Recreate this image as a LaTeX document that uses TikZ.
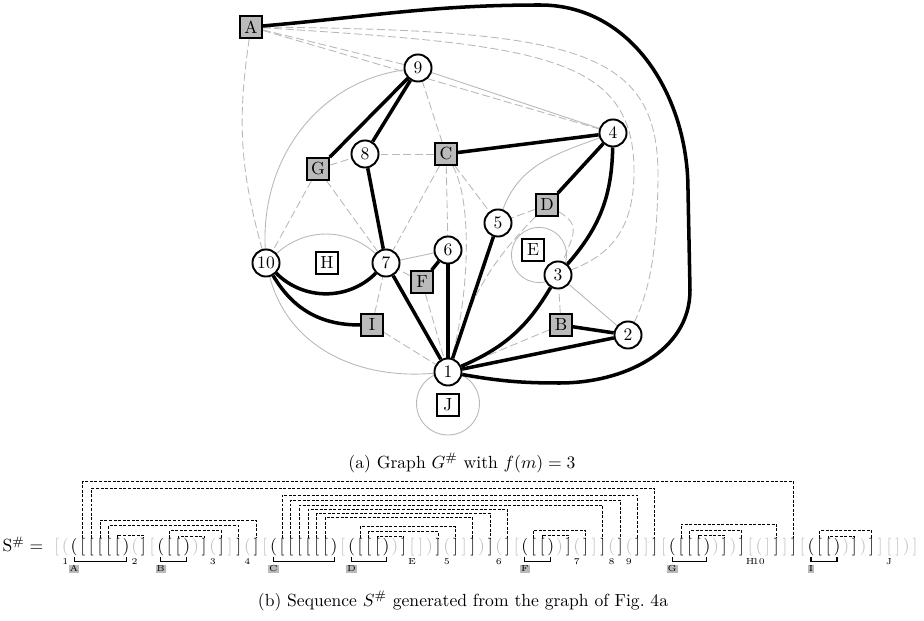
\documentclass[tikz,border=0pt]{standalone}
\usepackage{amssymb}
\usetikzlibrary{positioning, backgrounds}

\colorlet{lt}{black!25}
\colorlet{dk}{black}
\newcommand{\seqo}{(}
\newcommand{\seqc}{)}
\newcommand{\seqs}{[}
\newcommand{\seqe}{]}

\tikzset{
  vtx/.style={circle, draw, line width=1.1pt, fill=white, minimum size=15.4pt, inner sep=0pt},
  fc/.style={rectangle, draw, line width=1.1pt, fill=white, minimum size=12.4pt, inner sep=0pt},
  fcgray/.style={fc, fill=black!27},
  treeline/.style={line width=2pt},
  graphline/.style={black!28, line width=0.5pt},
  incline/.style={black!28, line width=0.5pt, dash pattern=on 4.5pt off 2pt},
  seqchar/.style={anchor=base, inner sep=0pt, text height=7.5pt, text depth=2.5pt},
  seqlink/.style={line width=0.5pt, dash pattern=on 1.7pt off 0.9pt},
  seqtie/.style={line width=0.6pt},
  seqnum/.style={font=\tiny, inner sep=0.3pt},
  seqtag/.style={font=\tiny, fill=black!27, inner sep=0.5pt}
}

\begin{document}
\begin{tikzpicture}[x=0.02cm, y=-0.02cm]
\useasboundingbox (0,0) rectangle (924,621);

% vertices and faces
\node[fcgray] (fA) at (251,27) {A};
\node[vtx] (v9) at (418,68) {9};
\node[vtx] (v4) at (613,133) {4};
\node[vtx] (v8) at (365,154) {8};
\node[fcgray] (fC) at (446,154) {C};
\node[fcgray] (fG) at (318,169) {G};
\node[fcgray] (fD) at (547,205) {D};
\node[vtx] (v5) at (498,223) {5};
\node[fc] (fE) at (533,250) {E};
\node[vtx] (v10) at (266,263) {10};
\node[fc] (fH) at (327,263) {H};
\node[vtx] (v7) at (386,263) {7};
\node[vtx] (v6) at (448,250) {6};
\node[fcgray] (fF) at (422,282) {F};
\node[vtx] (v3) at (558,275) {3};
\node[fcgray] (fI) at (372,325) {I};
\node[fcgray] (fB) at (561,325) {B};
\node[vtx] (v2) at (628,335) {2};
\node[vtx] (v1) at (448,372) {1};
\node[fc] (fJ) at (448,405) {J};

\coordinate (rimtop) at (540,5);
\coordinate (rimright) at (688,190);
\coordinate (rimlow) at (690,290);
\coordinate (rimbottom) at (560,383);

\begin{scope}[on background layer]
  % plain edges and the two loops
  \draw[graphline]
    (v9) edge (v4)
    (v9) edge[out=188, in=93] (v10)
    (v10) edge[bend left=42] (v7)
    (v7) edge (v6)
    (v4) edge[out=200, in=70] (v5)
    (v3) edge (v2)
    (v10) edge[out=-75, in=185] (v1);
  \draw[graphline] (v3.center) arc[start angle=46.5, end angle=406.5, radius=27.6];
  \draw[graphline] (v1.center) arc[start angle=-90, end angle=270, radius=31.5];

  % face-vertex incidences
  \draw[incline]
    (fA) edge[bend right=12] (v10)
    (fA) edge (v9)
    (fA) edge (v4)
    (fB) edge (v3)
    (fB) edge (v1)
    (fC) edge (v9)
    (fC) edge (v8)
    (fC) edge (v7)
    (fC) edge (v6)
    (fC) edge (v5)
    (fD) edge (v5)
    (fD) edge[bend right=14] (v1)
    (fD) edge[out=-30, in=70, looseness=1.4] (v3)
    (fF) edge (v7)
    (fF) edge (v1)
    (fG) edge (v10)
    (fG) edge (v7)
    (fG) edge (v8)
    (fI) edge (v7)
    (fI) edge (v1);
  \draw[incline] (fA) .. controls (540,45) and (636,55) .. (634,175) .. controls (633,230) and (610,255) .. (v3);
  \draw[incline] (fA) .. controls (580,30) and (660,50) .. (658,180) .. controls (657,250) and (650,290) .. (v2);
  \draw[incline] (fC) .. controls (472,200) and (470,290) .. (v1);

  % thick tree
  \draw[treeline]
    (v9) edge (fG)
    (v9) edge (v8)
    (fC) edge (v4)
    (v4) edge (fD)
    (v4) edge[bend left=20] (v3)
    (v8) edge (v7)
    (v10) edge[bend right=45] (v7)
    (v10) edge[bend right=30] (fI)
    (v7) edge (v1)
    (v6) edge (fF)
    (v6) edge (v1)
    (v5) edge (v1)
    (v3) edge[bend left=18] (v1)
    (fB) edge (v2)
    (v2) edge (v1);
  \draw[treeline] (fA) to[out=5, in=180] (rimtop) to[out=0, in=90] (rimright)
    -- (rimlow) to[out=-90, in=0] (rimbottom) to[out=180, in=-10] (v1);
\end{scope}

\node (capa) at (462,463) {(a) Graph $G^{\#}$ with $f(m) = 3$};

% the bracket sequence
\node[anchor=base east] (seqname) at (49.5,552) {S$^{\#}=$};
\foreach \sym/\tone [count=\i] in {s/lt, o/lt, o/dk, s/dk, s/dk, s/dk, s/dk, s/dk, c/dk, o/lt,
    e/dk, s/lt, o/dk, s/dk, s/dk, c/dk, c/lt, e/dk, o/lt, e/dk,
    e/lt, e/dk, o/lt, e/dk, s/lt, o/dk, s/dk, s/dk, s/dk, s/dk,
    s/dk, s/dk, c/dk, s/lt, o/dk, s/dk, s/dk, s/dk, c/dk, c/lt,
    e/dk, s/lt, e/lt, c/lt, e/dk, o/lt, e/dk, e/lt, e/dk, c/lt,
    e/dk, o/lt, e/dk, s/lt, o/dk, s/dk, s/dk, c/dk, c/lt, e/dk,
    o/lt, e/dk, e/lt, e/dk, o/lt, e/dk, o/lt, e/dk, e/lt, e/dk,
    s/lt, o/dk, s/dk, s/dk, s/dk, c/dk, c/lt, e/dk, c/lt, e/dk,
    s/lt, o/lt, e/lt, e/dk, e/lt, e/dk, s/lt, o/dk, s/dk, s/dk,
    c/dk, c/lt, e/dk, c/lt, e/dk, e/lt, s/lt, e/lt, c/lt, e/lt}
  \node[seqchar, text=\tone] (s\i) at ({48.03+8.67*\i}, 552) {\csname seq\sym\endcsname};

% dashed links over the square brackets
\foreach \a/\b/\y in {4/86/481.7, 5/70/488.3, 27/68/495, 28/66/500, 29/64/505, 30/53/509,
    31/51/513, 32/49/517, 6/24/520, 7/22/525.7, 73/84/524, 36/47/526.7, 14/20/530.7,
    56/62/530, 74/80/530.7, 89/95/530.7, 37/45/531.7, 8/11/535, 15/18/536.7, 38/41/536.7,
    57/60/535, 75/78/535, 90/93/536}
  \draw[seqlink] (s\a.north) -- (s\a.north |- 0,\y) -| (s\b.north);

% solid ties under the parentheses
\foreach \a/\b in {3/9, 13/16, 26/33, 35/39, 55/58, 72/76, 88/91}
  \draw[seqtie] (s\a.south) -- ++(0,4.3) -| (s\b.south);

\foreach \i/\t in {2/1, 10/2, 19/3, 23/4, 42/E, 46/5, 52/6, 61/7, 65/8, 67/9, 81/H, 82/10, 97/J}
  \node[seqnum, below=0.6pt of s\i] {\t};
\foreach \i/\t in {3/A, 13/B, 26/C, 35/D, 55/F, 72/G, 88/I}
  \node[seqtag, below=4.4pt of s\i] {\t};

\node (capb) at (463,601) {(b) Sequence $S^{\#}$ generated from the graph of Fig.~4a};
\end{tikzpicture}
\end{document}
